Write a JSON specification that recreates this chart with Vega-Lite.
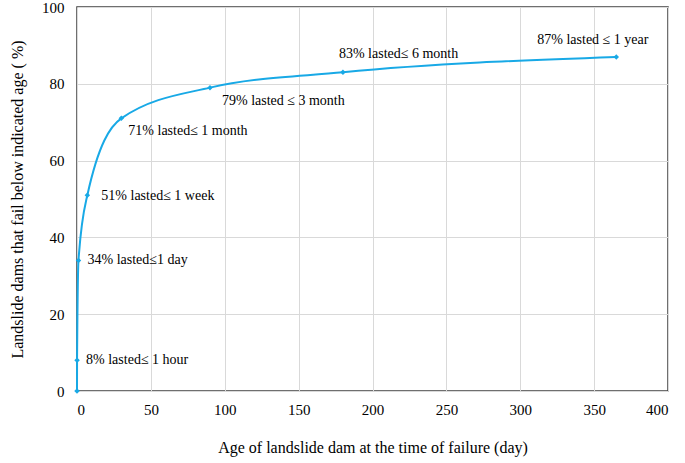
{
  "$schema": "https://vega.github.io/schema/vega-lite/v6.json",
  "width": 591,
  "height": 384,
  "autosize": "none",
  "padding": {"left": 77, "top": 7, "right": 17, "bottom": 72},
  "background": "white",
  "config": {
    "font": "Liberation Serif",
    "view": {"stroke": "#404040", "strokeWidth": 1.5},
    "axis": {
      "grid": true,
      "gridColor": "#d9d9d9",
      "gridWidth": 1,
      "domain": false,
      "ticks": false
    }
  },
  "data": {
    "values": [
      {"day": 0, "pct": 0, "label": ""},
      {"day": 0.04, "pct": 8, "label": "8% lasted≤ 1 hour"},
      {"day": 1, "pct": 34, "label": "34% lasted≤1 day"},
      {"day": 7, "pct": 51, "label": "51% lasted≤ 1 week"},
      {"day": 30, "pct": 71, "label": "71% lasted≤ 1 month"},
      {"day": 90, "pct": 79, "label": "79% lasted ≤ 3 month"},
      {"day": 180, "pct": 83, "label": "83% lasted≤ 6 month"},
      {"day": 365, "pct": 87, "label": "87% lasted ≤ 1 year"}
    ]
  },
  "encoding": {
    "x": {
      "field": "day",
      "type": "quantitative",
      "scale": {"domain": [0, 400], "nice": false},
      "axis": {
        "values": [0, 50, 100, 150, 200, 250, 300, 350, 400],
        "labelFont": "Liberation Serif",
        "labelFontSize": 15,
        "labelColor": "#000000",
        "labelPadding": 11,
        "titleFont": "Liberation Serif",
        "titleFontSize": 16,
        "titleFontWeight": "normal",
        "titleColor": "#000000",
        "titlePadding": 22,
        "title": "Age of landslide dam at the time of failure (day)"
      }
    },
    "y": {
      "field": "pct",
      "type": "quantitative",
      "scale": {"domain": [0, 100], "nice": false},
      "axis": {
        "values": [0, 20, 40, 60, 80, 100],
        "labelFont": "Liberation Serif",
        "labelFontSize": 15,
        "labelColor": "#000000",
        "labelPadding": 13,
        "titleFont": "Liberation Serif",
        "titleFontSize": 16,
        "titleFontWeight": "normal",
        "titleColor": "#000000",
        "titlePadding": 16,
        "title": "Landslide dams that fail below indicated age ( %)"
      }
    }
  },
  "layer": [
    {
      "mark": {"type": "line", "interpolate": "monotone", "color": "#18a9e6", "strokeWidth": 2}
    },
    {
      "mark": {"type": "point", "shape": "diamond", "filled": true, "size": 30, "color": "#18a9e6", "opacity": 1}
    },
    {
      "transform": [{"filter": "datum.pct == 8 || datum.pct == 34"}],
      "mark": {"type": "text", "align": "left", "baseline": "middle", "dx": 9, "dy": 0, "font": "Liberation Serif", "fontSize": 14, "color": "#000000"},
      "encoding": {"text": {"field": "label"}}
    },
    {
      "transform": [{"filter": "datum.pct == 51"}],
      "mark": {"type": "text", "align": "left", "baseline": "middle", "dx": 14, "dy": 1, "font": "Liberation Serif", "fontSize": 14, "color": "#000000"},
      "encoding": {"text": {"field": "label"}}
    },
    {
      "transform": [{"filter": "datum.pct == 71"}],
      "mark": {"type": "text", "align": "left", "baseline": "middle", "dx": 7, "dy": 13, "font": "Liberation Serif", "fontSize": 14, "color": "#000000"},
      "encoding": {"text": {"field": "label"}}
    },
    {
      "transform": [{"filter": "datum.pct == 79"}],
      "mark": {"type": "text", "align": "left", "baseline": "middle", "dx": 12, "dy": 13, "font": "Liberation Serif", "fontSize": 14, "color": "#000000"},
      "encoding": {"text": {"field": "label"}}
    },
    {
      "transform": [{"filter": "datum.pct == 83"}],
      "mark": {"type": "text", "align": "left", "baseline": "middle", "dx": -4, "dy": -18, "font": "Liberation Serif", "fontSize": 14, "color": "#000000"},
      "encoding": {"text": {"field": "label"}}
    },
    {
      "transform": [{"filter": "datum.pct == 87"}],
      "mark": {"type": "text", "align": "left", "baseline": "middle", "dx": -79, "dy": -17, "font": "Liberation Serif", "fontSize": 14, "color": "#000000"},
      "encoding": {"text": {"field": "label"}}
    }
  ]
}
